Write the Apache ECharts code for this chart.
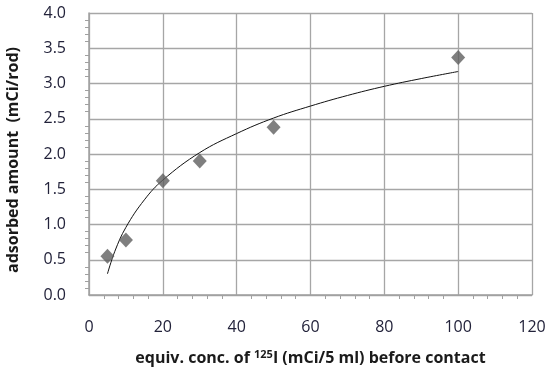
<!DOCTYPE html>
<html><head><meta charset="utf-8">
<script src="https://cdn.jsdelivr.net/npm/echarts@6/dist/echarts.min.js"></script>
<style>html,body{margin:0;padding:0;background:#fff}#c{width:547px;height:376px}</style>
</head><body><div id="c"></div>
<script>
const xConc = [5, 10, 20, 30, 50, 100];
const yAdsorbed = [0.55, 0.78, 1.62, 1.90, 2.38, 3.37];
// trend line values
const trendX = [5, 7, 10, 15, 20, 30, 40, 50, 60, 70, 80, 90, 100];
const trendY = [0.30, 0.62, 0.96, 1.35, 1.63, 2.02, 2.29, 2.51, 2.68, 2.83, 2.96, 3.07, 3.17];
const xTitle = 'equiv. conc. of ';
const yTitle = 'adsorbed amount  (mCi/rod)';

const chart = echarts.init(document.getElementById('c'), null, {renderer: 'canvas'});
const font = '"Open Sans", sans-serif';
chart.setOption({
  animation: false,
  grid: {left: 89, right: 15, top: 13, bottom: 81, containLabel: false, outerBoundsMode: 'none'},
  xAxis: {
    type: 'value', min: 0, max: 120, interval: 20,
    axisLine: {show: true, lineStyle: {color: '#a0a0a0', width: 1.5}},
    axisTick: {show: false},
    minorTick: {show: true, splitNumber: 5, length: 4, lineStyle: {color: '#a0a0a0'}},
    splitLine: {show: true, lineStyle: {color: '#a6a6a6', width: 1.3}},
    axisLabel: {margin: 24, fontSize: 16, color: '#22223a', fontFamily: font},
    name: '{t|' + xTitle + '}{s|125}{t|I (mCi/5 ml) before contact}',
    nameLocation: 'middle', nameGap: 54,
    nameTextStyle: {
      rich: {
        t: {fontSize: 16, fontWeight: 'bold', color: '#1a1a1a', fontFamily: font},
        s: {fontSize: 11, fontWeight: 'bold', color: '#1a1a1a', fontFamily: font, verticalAlign: 'top', padding: [0,0,7,0]}
      }
    }
  },
  yAxis: {
    type: 'value', min: 0, max: 4, interval: 0.5,
    axisLine: {show: true, lineStyle: {color: '#a0a0a0', width: 1.5}},
    axisTick: {show: false},
    minorTick: {show: true, splitNumber: 5, length: 4, lineStyle: {color: '#a0a0a0'}},
    splitLine: {show: true, lineStyle: {color: '#a6a6a6', width: 1.3}},
    axisLabel: {margin: 23, fontSize: 16, color: '#22223a', fontFamily: font, formatter: v => v.toFixed(1)},
    name: yTitle, nameLocation: 'middle', nameGap: 68,
    nameTextStyle: {fontSize: 16, fontWeight: 'bold', color: '#1a1a1a', fontFamily: font, padding: [0, 12, 0, 0]}
  },
  series: [
    {
      type: 'line', data: trendX.map((x, i) => [x, trendY[i]]),
      smooth: 0.4, showSymbol: false, symbol: 'none',
      lineStyle: {color: '#111', width: 1}, z: 2
    },
    {
      type: 'scatter', data: xConc.map((x, i) => [x, yAdsorbed[i]]),
      symbol: 'diamond', symbolSize: [14, 15],
      itemStyle: {color: '#5f5f5f'}, z: 3
    }
  ]
});
</script></body></html>
